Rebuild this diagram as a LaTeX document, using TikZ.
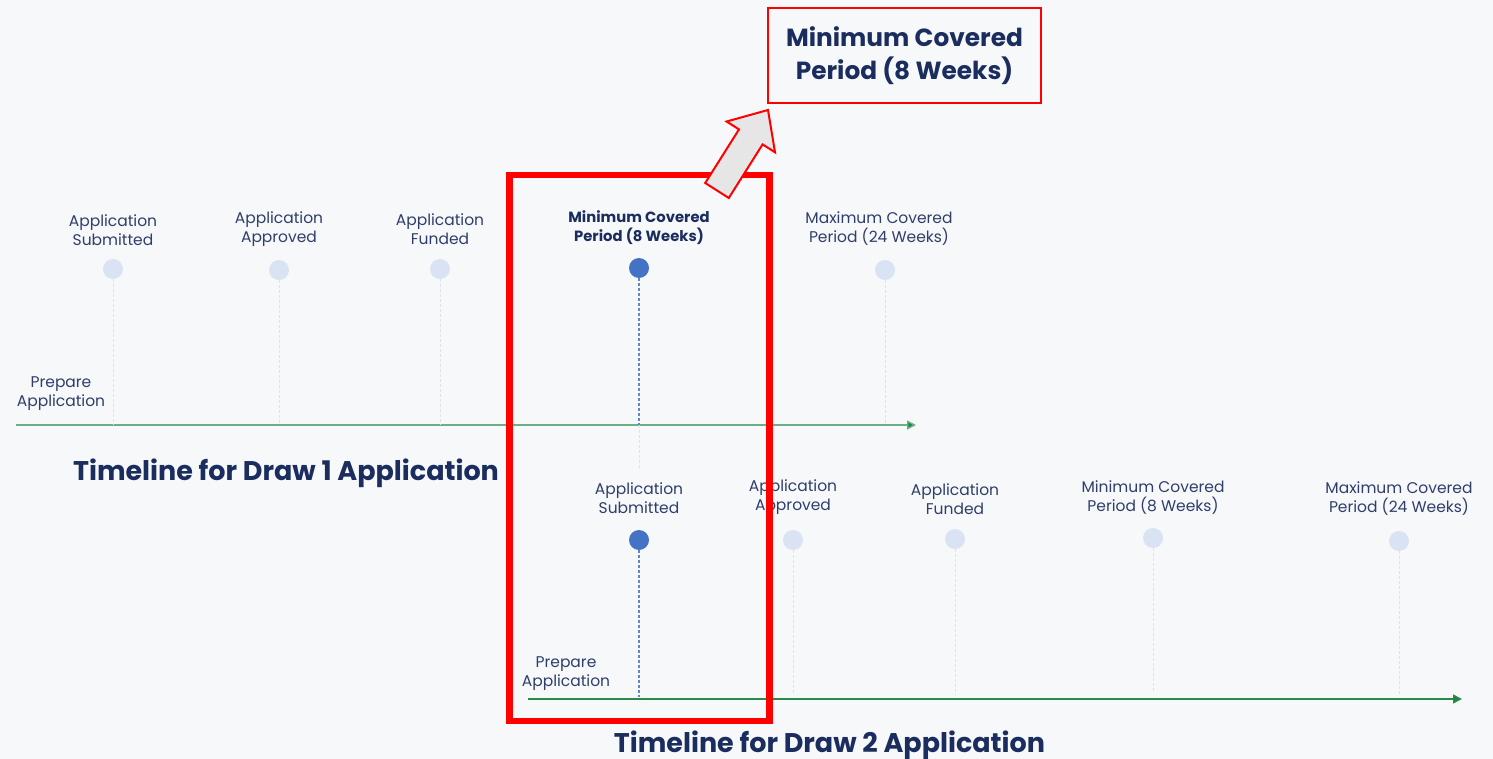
\documentclass[tikz,border=0pt]{standalone}
\usepackage{fontspec}
\setmainfont{Poppins}
\usetikzlibrary{arrows.meta}
\definecolor{bgcol}{HTML}{F7F8FA}
\definecolor{labelcol}{HTML}{2F3E6B}
\definecolor{titlecol}{HTML}{1B2D5E}
\definecolor{dotpale}{HTML}{DAE3F3}
\definecolor{dotblue}{HTML}{4472C4}
\definecolor{stempale}{HTML}{DCE2EC}
\definecolor{axisone}{HTML}{6BAF85}
\definecolor{axistwo}{HTML}{2A8A4A}
\definecolor{tipgreen}{HTML}{1E8449}
\definecolor{hlred}{HTML}{FF0000}
\definecolor{arrowfill}{HTML}{E6E6E6}
\begin{document}
\begin{tikzpicture}[x=1pt,y=-1pt,
  lbl/.style={align=center,text=labelcol,inner sep=0pt,font=\fontsize{15.5}{19}\selectfont},
  lblbold/.style={align=center,text=titlecol,inner sep=0pt,font=\bfseries\fontsize{14.8}{19}\selectfont},
  title/.style={text=titlecol,inner sep=0pt,font=\bfseries\fontsize{27}{32}\selectfont},
  pale/.style={circle,fill=dotpale,minimum size=20pt,inner sep=0pt},
  active/.style={circle,fill=dotblue,minimum size=20pt,inner sep=0pt},
  stem/.style={draw=stempale,line width=0.9pt,dash pattern=on 3pt off 2pt},
  activestem/.style={draw=dotblue!85!white,line width=1.1pt,dash pattern=on 3pt off 2pt},
  axis/.style={line width=1.4pt,-{Triangle[length=9pt,width=9pt,fill=tipgreen]}}
]
% canvas
\fill[bgcol] (0,0) rectangle (1493,759);
\useasboundingbox (0,0) rectangle (1493,759);

% ---------- timeline for draw 1 ----------
\coordinate (a1s) at (16,425);
\coordinate (a1e) at (916,425);
\draw[axis,draw=axisone] (a1s) -- (a1e);

\node[pale]   (d1a) at (113,269) {};
\node[pale]   (d1b) at (279,270) {};
\node[pale]   (d1c) at (440,269) {};
\node[active] (d1d) at (639,268) {};
\node[pale]   (d1e) at (885,270) {};

\coordinate (f1a) at (113,425);
\coordinate (f1b) at (279,425);
\coordinate (f1c) at (440,425);
\coordinate (f1d) at (639,425);
\coordinate (g1d) at (639,470);
\coordinate (f1e) at (885,425);
\draw[stem] (d1a) -- (f1a);
\draw[stem] (d1b) -- (f1b);
\draw[stem] (d1c) -- (f1c);
\draw[activestem] (d1d) -- (f1d);
\draw[stem] (f1d) -- (g1d);
\draw[stem] (d1e) -- (f1e);

\node[lbl] (l1p) at (61,394) {Prepare\\Application};
\node[lbl] (l1a) at (113,230) {Application\\Submitted};
\node[lbl] (l1b) at (279,229) {Application\\Approved};
\node[lbl] (l1c) at (440,229) {Application\\Funded};
\node[lblbold] (l1d) at (639,228) {Minimum Covered\\Period (8 Weeks)};
\node[lbl] (l1e) at (879,229) {Maximum Covered\\Period (24 Weeks)};

\node[title] (t1) at (286,473) {Timeline for Draw 1 Application};

% ---------- timeline for draw 2 ----------
\coordinate (a2s) at (528,699);
\coordinate (a2e) at (1462,699);
\draw[axis,draw=axistwo] (a2s) -- (a2e);

\node[active] (d2a) at (639,540) {};
\node[pale]   (d2b) at (793,540) {};
\node[pale]   (d2c) at (955,539) {};
\node[pale]   (d2d) at (1153,538) {};
\node[pale]   (d2e) at (1399,541) {};

\coordinate (f2a) at (639,697);
\coordinate (f2b) at (793,695);
\coordinate (f2c) at (955,695);
\coordinate (f2d) at (1153,693);
\coordinate (f2e) at (1399,696);
\draw[activestem] (d2a) -- (f2a);
\draw[stem] (d2b) -- (f2b);
\draw[stem] (d2c) -- (f2c);
\draw[stem] (d2d) -- (f2d);
\draw[stem] (d2e) -- (f2e);

\node[lbl] (l2p) at (566,674) {Prepare\\Application};
\node[lbl] (l2a) at (639,498) {Application\\Submitted};
\node[lbl] (l2b) at (793,497) {Application\\Approved};
\node[lbl] (l2c) at (955,499) {Application\\Funded};
\node[lbl] (l2d) at (1153,498) {Minimum Covered\\Period (8 Weeks)};
\node[lbl] (l2e) at (1399,499) {Maximum Covered\\Period (24 Weeks)};

\node[title] (t2) at (829.5,745) {Timeline for Draw 2 Application};

% ---------- highlight and callout ----------
\node[draw=hlred,line width=6.5pt,minimum width=260pt,minimum height=546pt,inner sep=0pt] (hl) at (639.6,448) {};

\node[draw=hlred,line width=1.8pt,fill=bgcol,minimum width=273pt,minimum height=95pt,
      align=center,text=titlecol,font=\bfseries\fontsize{24.8}{33}\selectfont] (callout) at (904.5,55.5)
      {Minimum Covered\\Period (8 Weeks)};

% block arrow pointing at the callout
\fill[arrowfill,draw=hlred,line width=2pt,line join=miter]
  (705.2,183) -- (739,129.4) -- (726.6,121.5) -- (768,110) -- (775,152.3)
  -- (762.6,144.4) -- (728.8,198) -- cycle;
\end{tikzpicture}
\end{document}
